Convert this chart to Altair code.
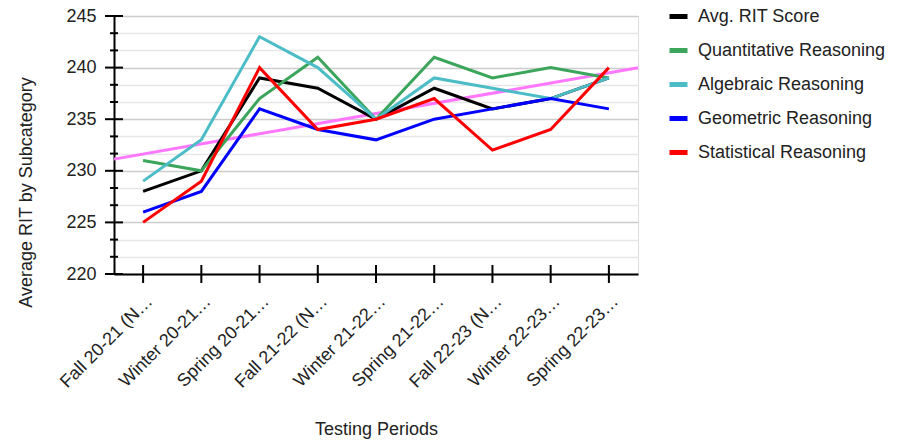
import json
import altair as alt
import pandas as pd

# ---------------- data ----------------
periods = [
    "Fall 20-21 (N…", "Winter 20-21…", "Spring 20-21…",
    "Fall 21-22 (N…", "Winter 21-22…", "Spring 21-22…",
    "Fall 22-23 (N…", "Winter 22-23…", "Spring 22-23…",
]
series_names = [
    "Avg. RIT Score", "Quantitative Reasoning", "Algebraic Reasoning",
    "Geometric Reasoning", "Statistical Reasoning",
]
avg_rit      = [228, 230, 239, 238, 235, 238, 236, 237, 239]
quantitative = [231, 230, 237, 241, 235, 241, 239, 240, 239]
algebraic    = [229, 233, 243, 240, 235, 239, 238, 237, 239]
geometric    = [226, 228, 236, 234, 233, 235, 236, 237, 236]
statistical  = [225, 229, 240, 234, 235, 237, 232, 234, 240]
series_values = [avg_rit, quantitative, algebraic, geometric, statistical]

y_major = [220, 225, 230, 235, 240, 245]
y_minor = [221.6667, 223.3333, 226.6667, 228.3333, 231.6667, 233.3333,
           236.6667, 238.3333, 241.6667, 243.3333]

# ---------------- style ----------------
series_colors = ["#000000", "#3ca55c", "#4cbdc6", "#0000ff", "#ff0000"]
trend_color = "#ff77ff"
FONT = "Liberation Sans"
TEXT = "#222222"
W, H = 524, 258
PAD_TOP, PAD_LEFT = 8, 106

rows = []
for name, vals in zip(series_names, series_values):
    for i, v in enumerate(vals):
        rows.append({"idx": i, "value": v, "series": name})
df = pd.DataFrame(rows)

major_df = pd.DataFrame({"value": y_major})
minor_df = pd.DataFrame({"value": y_minor})
xtick_df = pd.DataFrame({"idx": list(range(len(periods)))})

is_major = "abs(datum.value/5 - round(datum.value/5)) < 0.01"
y_values = sorted(y_major + y_minor)

x_enc = alt.X(
    "idx:Q",
    scale=alt.Scale(domain=[-0.5, len(periods) - 0.5], nice=False, zero=False),
    axis=alt.Axis(
        title="Testing Periods",
        values=list(range(len(periods))),
        tickCount=len(periods),
        labelExpr=json.dumps(periods) + "[datum.value]",
        labelAngle=-45, labelAlign="right", labelBaseline="top",
        labelPadding=18, labelFontSize=18, labelFont=FONT, labelColor=TEXT,
        labelOverlap=False, labelBound=False, labelFlush=False,
        ticks=False, tickSize=0, grid=False,
        domainColor="#000000", domainWidth=2,
        titleFontSize=18, titleFont=FONT, titleColor=TEXT, titleFontWeight="normal",
        titleY=146,
    ),
)

y_enc = alt.Y(
    "value:Q",
    scale=alt.Scale(domain=[220, 245], nice=False, zero=False),
    axis=alt.Axis(
        title="Average RIT by Subcategory",
        values=y_values,
        tickCount=len(y_values),
        labelExpr=is_major + " ? format(datum.value, 'd') : ''",
        labelOverlap=False, labelFlush=False,
        labelPadding=18, labelFontSize=18, labelFont=FONT, labelColor=TEXT,
        ticks=False, tickSize=0,
        grid=True,
        gridColor={"condition": {"test": is_major, "value": "#cccccc"}, "value": "#e6e6e6"},
        gridWidth=1.5,
        domainColor="#000000", domainWidth=2,
        titleFontSize=18, titleFont=FONT, titleColor=TEXT, titleFontWeight="normal",
        titleX=-79, titleY=176,
    ),
)

lines = alt.Chart(df).mark_line(strokeWidth=3).encode(
    x=x_enc,
    y=y_enc,
    color=alt.Color(
        "series:N",
        scale=alt.Scale(domain=series_names, range=series_colors),
        legend=alt.Legend(
            orient="none", legendX=553, legendY=-11, title=None,
            symbolType="stroke", symbolSize=324, symbolStrokeWidth=5,
            labelFontSize=18, labelFont=FONT, labelColor=TEXT, labelLimit=400,
            labelOffset=8, rowPadding=12, padding=0,
        ),
    ),
)

trend = alt.Chart(df).transform_filter(
    alt.datum.series == series_names[0]
).transform_regression(
    "idx", "value", extent=[-0.5, len(periods) - 0.5]
).mark_line(strokeWidth=3, color=trend_color).encode(
    x=alt.X("idx:Q"), y=alt.Y("value:Q")
)

ytick_major = alt.Chart(major_df).mark_rule(color="#000000", strokeWidth=2).encode(
    y=alt.Y("value:Q"), x=alt.value(-9), x2=alt.value(9)
)
ytick_minor = alt.Chart(minor_df).mark_rule(color="#000000", strokeWidth=2).encode(
    y=alt.Y("value:Q"), x=alt.value(-4), x2=alt.value(4)
)
xtick = alt.Chart(xtick_df).mark_rule(color="#000000", strokeWidth=2).encode(
    x=alt.X("idx:Q"), y=alt.value(H - 9), y2=alt.value(H + 9)
)

chart = alt.layer(trend, lines, ytick_major, ytick_minor, xtick).properties(
    width=W, height=H,
    autosize=alt.AutoSizeParams(type="none"),
    padding={"left": PAD_LEFT, "top": PAD_TOP,
             "right": 898 - 16 - PAD_LEFT - W, "bottom": 432 - PAD_TOP - H},
).configure_view(stroke=None).configure(font=FONT)

chart.save("out.html", embed_options={"renderer": "svg", "actions": False})
